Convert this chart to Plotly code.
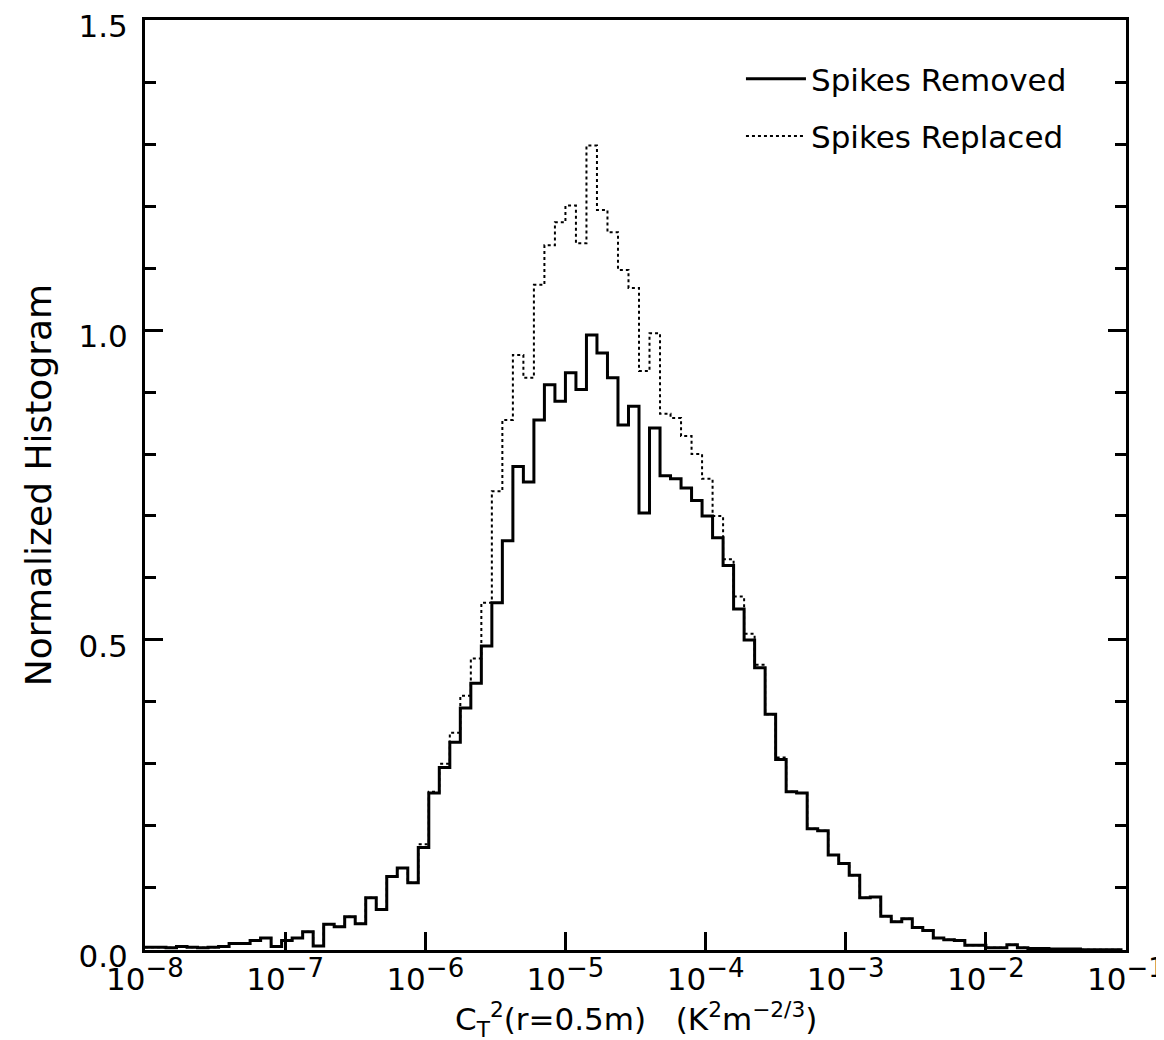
import plotly.graph_objects as go

# ---------------- data ----------------
bin_start_log10 = -8.0        # left edge of first bin (log10 of C_T^2)
bin_width_decades = 0.075     # bin width in decades

spikes_removed = [
    0.004, 0.004, 0.003, 0.005, 0.004, 0.003, 0.004, 0.005,
    0.010, 0.010, 0.015, 0.019, 0.005, 0.015, 0.019, 0.029,
    0.006, 0.041, 0.037, 0.053, 0.042, 0.084, 0.065, 0.118,
    0.132, 0.108, 0.165, 0.253, 0.294, 0.335, 0.390, 0.430,
    0.490, 0.560, 0.660, 0.780, 0.755, 0.855, 0.912, 0.885,
    0.931, 0.904, 0.992, 0.963, 0.923, 0.847, 0.877, 0.705,
    0.842, 0.765, 0.760, 0.745, 0.725, 0.700, 0.665, 0.620,
    0.550, 0.500, 0.455, 0.380, 0.307, 0.255, 0.253, 0.195,
    0.192, 0.153, 0.139, 0.120, 0.084, 0.085, 0.054, 0.045,
    0.050, 0.036, 0.031, 0.019, 0.016, 0.015, 0.007, 0.007,
    0.003, 0.003, 0.008, 0.003, 0.002, 0.002, 0.001, 0.001,
    0.001, 0.000, 0.000, 0.000, 0.000,
]

spikes_replaced = [
    0.004, 0.004, 0.003, 0.005, 0.004, 0.003, 0.004, 0.005,
    0.010, 0.010, 0.015, 0.019, 0.005, 0.015, 0.019, 0.029,
    0.006, 0.041, 0.037, 0.053, 0.042, 0.084, 0.065, 0.118,
    0.132, 0.108, 0.170, 0.255, 0.300, 0.350, 0.410, 0.470,
    0.560, 0.740, 0.855, 0.960, 0.923, 1.073, 1.137, 1.174,
    1.201, 1.140, 1.298, 1.194, 1.158, 1.097, 1.068, 0.934,
    0.995, 0.865, 0.858, 0.829, 0.800, 0.760, 0.700, 0.630,
    0.570, 0.510, 0.460, 0.380, 0.310, 0.255, 0.253, 0.195,
    0.192, 0.153, 0.139, 0.120, 0.084, 0.085, 0.054, 0.045,
    0.050, 0.036, 0.031, 0.019, 0.016, 0.015, 0.007, 0.007,
    0.003, 0.003, 0.008, 0.003, 0.002, 0.002, 0.001, 0.001,
    0.001, 0.000, 0.000, 0.000, 0.000,
]

x_tick_values = [1e-8, 1e-7, 1e-6, 1e-5, 1e-4, 1e-3, 1e-2, 1e-1]
x_tick_exponents = ["−8", "−7", "−6", "−5", "−4", "−3", "−2", "−1"]
y_tick_values = [0.0, 0.5, 1.0, 1.5]
y_tick_labels = ["0.0", "0.5", "1.0", "1.5"]

series_names = ["Spikes Removed", "Spikes Replaced"]

# ---------------- figure ----------------
FONT = "DejaVu Sans"


def step_xy(vals):
    edges = [10 ** (bin_start_log10 + bin_width_decades * i) for i in range(len(vals) + 1)]
    return edges, list(vals) + [vals[-1]]


fig = go.Figure()
# dotted first (underneath), solid on top; legend order set by rank
for name, vals, dash, width, grp, rank in [
    (series_names[1], spikes_replaced, "dot", 2, "b", 2),
    (series_names[0], spikes_removed, "solid", 3, "a", 1),
]:
    xs, ys = step_xy(vals)
    fig.add_trace(go.Scatter(
        x=xs, y=ys, mode="lines", name=name, legendgroup=grp, legendrank=rank,
        line=dict(color="black", width=width, dash=dash, shape="hv"),
    ))

x_tick_text = [f"10<sup><span style='font-size:26px'>{e}</span></sup>" for e in x_tick_exponents]

fig.update_layout(
    width=1164, height=1040,
    margin=dict(l=137, r=46, t=12, b=98),
    paper_bgcolor="white", plot_bgcolor="white",
    font=dict(family=FONT, size=31, color="black"),
    showlegend=True,
    legend=dict(
        x=0.6075, y=0.9656, xanchor="left", yanchor="top",
        bgcolor="rgba(0,0,0,0)", borderwidth=0,
        font=dict(family=FONT, size=31, color="black"),
        traceorder="grouped", tracegroupgap=14,
        itemwidth=60,
    ),
    xaxis=dict(
        type="log", range=[-8, -1], automargin=False,
        tickvals=x_tick_values, ticktext=x_tick_text,
        ticks="inside", ticklen=18, tickwidth=2.5, tickcolor="black",
        showline=True, linewidth=3, linecolor="black", mirror=True,
        showgrid=False, zeroline=False, ticklabeloverflow="allow",
        tickfont=dict(family=FONT, size=31, color="black"),
    ),
    yaxis=dict(
        range=[-0.0005, 1.5005], automargin=False,
        tickvals=y_tick_values, ticktext=y_tick_labels,
        ticks="inside", ticklen=18, tickwidth=2.5, tickcolor="black",
        ticklabelstandoff=8, ticklabelshift=6, ticklabeloverflow="allow",
        minor=dict(dtick=0.1, ticks="inside", ticklen=11, tickwidth=2.5, tickcolor="black"),
        showline=True, linewidth=3, linecolor="black", mirror="ticks",
        showgrid=False, zeroline=False,
        tickfont=dict(family=FONT, size=31, color="black"),
        title=dict(text="Normalized Histogram", font=dict(family=FONT, size=36, color="black"), standoff=16),
    ),
)

fig.add_annotation(
    xref="paper", yref="paper", x=0.5, y=-0.075, xanchor="center", yanchor="middle",
    text="C<sub>T</sub><sup>2</sup>(r=0.5m)   (K<sup>2</sup>m<sup>−2/3</sup>)",
    showarrow=False, font=dict(family=FONT, size=31, color="black"),
)

fig.write_html("out.html")
